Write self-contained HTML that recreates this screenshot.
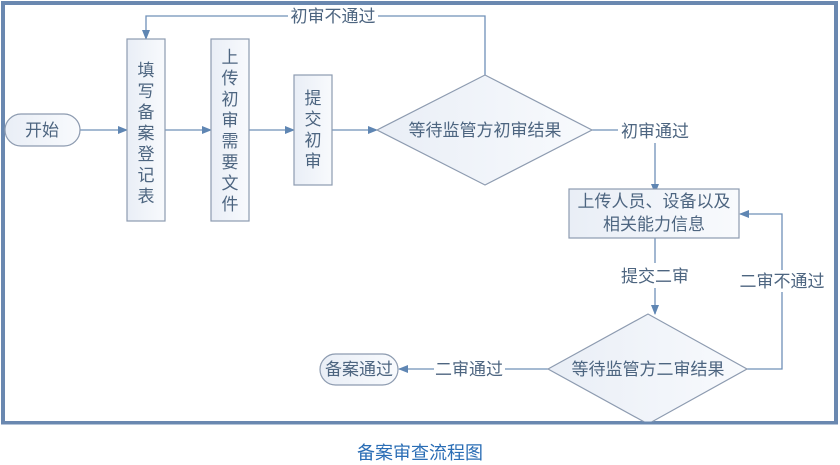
<!DOCTYPE html>
<html><head><meta charset="utf-8"><style>
body{margin:0;background:#fff;}
svg{display:block;}
text{font-family:"Liberation Sans","Noto Sans CJK SC",sans-serif;fill:#4d6580;}
</style></head><body>
<svg width="840" height="465" viewBox="0 0 840 465" xmlns="http://www.w3.org/2000/svg">
<defs>
<marker id="a" markerWidth="10" markerHeight="8" refX="9" refY="4" orient="auto" markerUnits="userSpaceOnUse">
<path d="M0,0 L10,4 L0,8 Z" fill="#5f86b3"/></marker>
<linearGradient id="g" x1="0" y1="0" x2="1" y2="0"><stop offset="0" stop-color="#e9eef6"/><stop offset="1" stop-color="#f8fafd"/></linearGradient>
</defs>
<rect x="3" y="3" width="833" height="420" fill="#fff" stroke="#6a88b0" stroke-width="4"/>
<g stroke="#6f90b8" stroke-width="1.3" fill="none">
<line x1="80" y1="130" x2="127" y2="130" marker-end="url(#a)"/>
<line x1="165" y1="130" x2="211" y2="130" marker-end="url(#a)"/>
<line x1="249" y1="130" x2="294" y2="130" marker-end="url(#a)"/>
<line x1="332" y1="130" x2="377" y2="130" marker-end="url(#a)"/>
<polyline points="485,75 485,16 378,16"/>
<polyline points="288,16 146,16 146,39" marker-end="url(#a)"/>
<line x1="592" y1="130" x2="618" y2="130"/>
<line x1="655" y1="143" x2="655" y2="193" marker-end="url(#a)"/>
<line x1="655" y1="238" x2="655" y2="263"/>
<line x1="655" y1="288" x2="655" y2="314" marker-end="url(#a)"/>
<polyline points="747,369 782,369 782,292"/>
<polyline points="782,270 782,214 740,214" marker-end="url(#a)"/>
<line x1="548" y1="369" x2="505" y2="369"/>
<line x1="434" y1="369" x2="399" y2="369" marker-end="url(#a)"/>
</g>
<g stroke="#8d9bb0" stroke-width="1.2" fill="url(#g)">
<rect x="5" y="114" width="75" height="32" rx="16"/>
<rect x="127" y="39" width="38" height="182"/>
<rect x="211" y="39" width="38" height="182"/>
<rect x="294" y="75" width="38" height="110"/>
<polygon points="377,130 485,75 592,130 485,185"/>
<rect x="569" y="189" width="170" height="49"/>
<polygon points="548,369 648,314 747,369 648,424"/>
<rect x="320" y="354" width="78" height="31" rx="15.5"/>
</g>
<rect x="0" y="424" width="840" height="41" fill="#fff"/>
<line x1="1" y1="423" x2="838" y2="423" stroke="#6a88b0" stroke-width="3"/>
<g font-size="17">
<text x="42" y="136" text-anchor="middle">开始</text>
<g text-anchor="middle">
<text x="146" y="76">填</text><text x="146" y="97">写</text><text x="146" y="118">备</text><text x="146" y="139">案</text><text x="146" y="160">登</text><text x="146" y="181">记</text><text x="146" y="202">表</text>
<text x="230" y="63">上</text><text x="230" y="84">传</text><text x="230" y="105">初</text><text x="230" y="126">审</text><text x="230" y="147">需</text><text x="230" y="168">要</text><text x="230" y="189">文</text><text x="230" y="210">件</text>
<text x="313" y="104">提</text><text x="313" y="125">交</text><text x="313" y="146">初</text><text x="313" y="167">审</text>
<text x="485" y="136">等待监管方初审结果</text>
<text x="333" y="22">初审不通过</text>
<text x="655" y="137">初审通过</text>
<text x="654" y="207">上传人员、设备以及</text>
<text x="654" y="230">相关能力信息</text>
<text x="655" y="282">提交二审</text>
<text x="782" y="287">二审不通过</text>
<text x="648" y="375">等待监管方二审结果</text>
<text x="469" y="375">二审通过</text>
<text x="359" y="375">备案通过</text>
</g>
</g>
<text x="420" y="459" text-anchor="middle" font-size="18" style="fill:#2a6db5">备案审查流程图</text>
</svg>
</body></html>
